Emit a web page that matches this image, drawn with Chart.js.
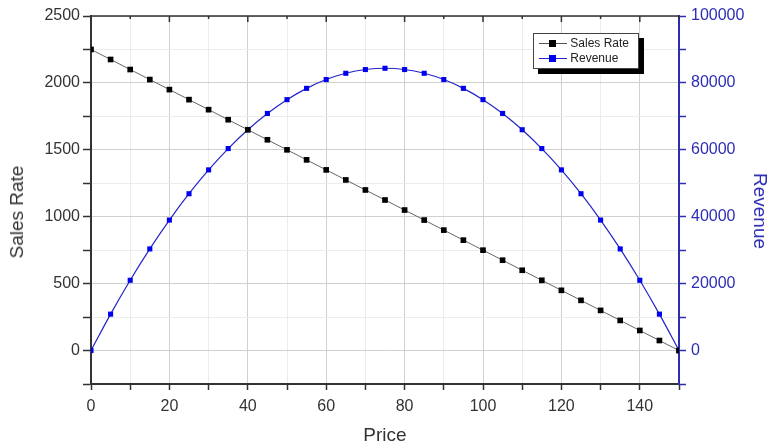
<!DOCTYPE html>
<html>
<head>
<meta charset="utf-8">
<script src="https://cdn.jsdelivr.net/npm/chart.js@4"></script>
<style>
  html, body { margin: 0; padding: 0; background: #fff; }
  #wrap { position: relative; width: 772px; height: 448px; font-family: "Liberation Sans", Arial, sans-serif; }
  #legend {
    position: absolute; left: 533px; top: 33px; width: 104px; height: 34px;
    border: 1px solid #444; background: #fff; box-shadow: 5px 5px 0 #000;
    font-size: 12px; color: #222;
  }
  .item { position: absolute; left: 5px; height: 15px; line-height: 15px; }
  .sym { display: inline-block; position: relative; width: 28px; height: 15px; vertical-align: top; }
  .sym .ln { position: absolute; left: 0; right: 0; top: 7px; height: 1px; }
  .sym .mk { position: absolute; left: 10px; top: 4px; width: 7px; height: 7px; }
  .titulo { position: absolute; font-size: 19px; line-height: 22px; white-space: nowrap; color: #333; }
  #tx { left: 385px; top: 435px; transform: translate(-50%, -50%); }
  #ty { left: 17px; top: 212px; transform: translate(-50%, -50%) rotate(-90deg); }
  #ty1 { left: 760px; top: 211px; transform: translate(-50%, -50%) rotate(90deg); color: #2d2db4; }
</style>
</head>
<body>
<div id="wrap">
  <canvas id="grafico" width="772" height="448"></canvas>
  <div class="titulo" id="tx">Price</div>
  <div class="titulo" id="ty">Sales Rate</div>
  <div class="titulo" id="ty1">Revenue</div>
  <div id="legend">
    <div class="item" style="top:2px"><span class="sym"><span class="ln" style="background:#555"></span><span class="mk" style="background:#000"></span></span> Sales Rate</div>
    <div class="item" style="top:17px"><span class="sym"><span class="ln" style="background:#2424c8"></span><span class="mk" style="background:#0000ee"></span></span> Revenue</div>
  </div>
</div>
<script>
// Datos
const precios = [0, 5, 10, 15, 20, 25, 30, 35, 40, 45, 50, 55, 60, 65, 70, 75,
                 80, 85, 90, 95, 100, 105, 110, 115, 120, 125, 130, 135, 140, 145, 150];
const ventas = [2250, 2175, 2100, 2025, 1950, 1875, 1800, 1725, 1650, 1575, 1500, 1425,
                1350, 1275, 1200, 1125, 1050, 975, 900, 825, 750, 675, 600, 525, 450,
                375, 300, 225, 150, 75, 0];
const ingresos = [0, 10875, 21000, 30375, 39000, 46875, 54000, 60375, 66000, 70875, 75000,
                  78375, 81000, 82875, 84000, 84375, 84000, 82875, 81000, 78375, 75000,
                  70875, 66000, 60375, 54000, 46875, 39000, 30375, 21000, 10875, 0];

const fuente = '"Liberation Sans", Arial, sans-serif';
const azul = '#2d2db4';

function puntos(ys) {
    return precios.map((p, i) => ({ x: p, y: ys[i] }));
}

// marco superior con marcas hacia dentro
const marco = {
    id: 'marco',
    afterDraw(chart) {
        const { ctx, chartArea: a, scales } = chart;
        ctx.save();
        ctx.strokeStyle = '#333';
        ctx.lineWidth = 1.5;
        ctx.beginPath();
        ctx.moveTo(a.left, a.top);
        ctx.lineTo(a.right, a.top);
        scales.x.ticks.forEach(t => {
            const px = scales.x.getPixelForValue(t.value);
            const len = t.value % 20 === 0 ? 6 : 3;
            ctx.moveTo(px, a.top);
            ctx.lineTo(px, a.top + len);
        });
        ctx.stroke();
        ctx.restore();
    }
};

const chart = new Chart(document.getElementById('grafico'), {
    type: 'line',
    data: {
        datasets: [{
            label: 'Sales Rate',
            data: puntos(ventas),
            yAxisID: 'y',
            borderColor: '#666',
            borderWidth: 1,
            pointStyle: 'rect',
            pointRadius: 4,
            pointBackgroundColor: '#000',
            pointBorderColor: '#000',
            pointBorderWidth: 0
        }, {
            label: 'Revenue',
            data: puntos(ingresos),
            yAxisID: 'y1',
            borderColor: '#2424c8',
            borderWidth: 1.2,
            cubicInterpolationMode: 'monotone',
            pointStyle: 'rect',
            pointRadius: 3.6,
            pointBackgroundColor: '#0000ee',
            pointBorderColor: '#0000ee',
            pointBorderWidth: 0
        }]
    },
    options: {
        responsive: false,
        animation: false,
        layout: { padding: { top: 16 } },
        plugins: { legend: { display: false }, tooltip: { enabled: false } },
        scales: {
            x: {
                type: 'linear',
                min: 0, max: 150,
                afterFit: s => { s.height = 64; },
                ticks: {
                    stepSize: 10,
                    autoSkip: false,
                    maxRotation: 0,
                    padding: 7,
                    color: '#333',
                    font: { family: fuente, size: 16 },
                    callback: v => (v % 20 === 0 ? v : '')
                },
                grid: {
                    color: c => (c.tick && c.tick.value % 20 === 0 ? '#d0d0d0' : '#ececec'),
                    tickColor: '#333',
                    tickLength: 6,
                    tickWidth: 1.5
                },
                border: { color: '#333', width: 2 }
            },
            y: {
                position: 'left',
                min: -250, max: 2500,
                afterFit: s => { s.width = 91; },
                ticks: {
                    stepSize: 250,
                    autoSkip: false,
                    padding: 3,
                    color: '#333',
                    font: { family: fuente, size: 16 },
                    callback: v => (v % 500 === 0 ? v : '')
                },
                grid: {
                    color: c => (c.tick && c.tick.value % 500 === 0 ? '#d0d0d0' : '#ececec'),
                    tickColor: '#333',
                    tickLength: 8,
                    tickWidth: 1.5
                },
                border: { color: '#333', width: 2 }
            },
            y1: {
                position: 'right',
                min: -10000, max: 100000,
                afterFit: s => { s.width = 93; },
                ticks: {
                    stepSize: 10000,
                    autoSkip: false,
                    padding: 5,
                    color: azul,
                    font: { family: fuente, size: 16 },
                    callback: v => (v % 20000 === 0 ? v : '')
                },
                grid: {
                    drawOnChartArea: false,
                    tickColor: azul,
                    tickLength: 7,
                    tickWidth: 1.5
                },
                border: { color: azul, width: 2 }
            }
        }
    },
    plugins: [marco]
});
</script>
</body>
</html>
